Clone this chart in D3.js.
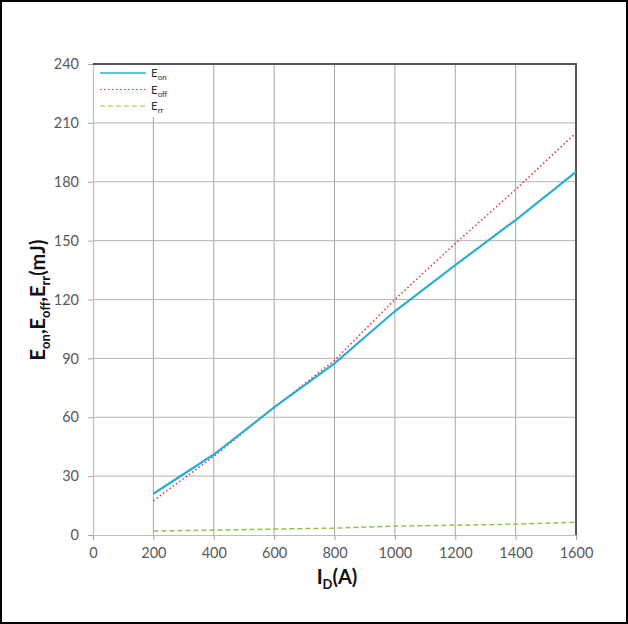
<!DOCTYPE html>
<html>
<head>
<meta charset="utf-8">
<script src="https://cdn.jsdelivr.net/npm/d3@7"></script>
<style>
  html, body { margin: 0; padding: 0; background: #fff; }
  svg { display: block; }
</style>
</head>
<body>
<svg id="chart" width="628" height="624"></svg>
<script>
// Switching energy vs drain current
const currents = [200, 400, 600, 800, 1000, 1200, 1400, 1600];
const eOn  = [21, 41, 65, 87.5, 114, 137.5, 160.5, 185];
const eOff = [17.5, 40, 65, 89, 120, 148.5, 176, 205];
const eRr  = [2, 2.5, 3, 3.5, 4.5, 5, 5.5, 6.5];
const xTicks = [0, 200, 400, 600, 800, 1000, 1200, 1400, 1600];
const yTicks = [0, 30, 60, 90, 120, 150, 180, 210, 240];

const series = [
  { name: "on",  values: eOn,  color: "#2aaed6", width: 2.2, dash: null },
  { name: "off", values: eOff, color: "#e5323a", width: 1.5, dash: "1.5,2.5" },
  { name: "rr",  values: eRr,  color: "#96c43c", width: 1.5, dash: "5,3" }
];

const svg = d3.select("#chart");
const W = 628, H = 624;
const plotL = 93, plotR = 576, plotT = 64, plotB = 535;
const font = "Lato, 'Open Sans', sans-serif";

// outer frame
svg.append("rect").attr("x", 1).attr("y", 1).attr("width", W - 2).attr("height", H - 2)
  .attr("fill", "#fff").attr("stroke", "#000").attr("stroke-width", 2);

const x = d3.scaleLinear().domain([0, 1600]).range([plotL, plotR]);
const y = d3.scaleLinear().domain([0, 240]).range([plotB, plotT]);

// grid
const grid = svg.append("g");
grid.selectAll("line.v").data(xTicks.slice(1, -1)).join("line")
  .attr("x1", d => x(d)).attr("x2", d => x(d)).attr("y1", plotT).attr("y2", plotB)
  .attr("stroke", "#a6a6a6").attr("stroke-width", 1);
grid.selectAll("line.h").data(yTicks.slice(1, -1)).join("line")
  .attr("x1", plotL).attr("x2", plotR).attr("y1", d => y(d)).attr("y2", d => y(d))
  .attr("stroke", "#b5b5b5").attr("stroke-width", 1);

// axes
const xAxis = svg.append("g").attr("transform", `translate(0,${plotB})`)
  .call(d3.axisBottom(x).tickValues(xTicks).tickSize(5).tickPadding(8).tickFormat(d3.format("d")));
const yAxis = svg.append("g").attr("transform", `translate(${plotL},0)`)
  .call(d3.axisLeft(y).tickValues(yTicks).tickSize(5).tickPadding(9).tickFormat(d3.format("d")));
[xAxis, yAxis].forEach(a => {
  a.select(".domain").attr("stroke", "#bdbdbd").attr("stroke-width", 1.2);
  a.selectAll(".tick line").attr("stroke", "#a6a6a6");
  a.selectAll(".tick text").attr("fill", "#595959").style("font-family", font).style("font-size", "14.5px");
});

// plot frame: top and right edges
svg.append("path")
  .attr("d", `M${plotL},${plotT}H${plotR}V${plotB}`)
  .attr("fill", "none").attr("stroke", "#555").attr("stroke-width", 2);

// curves
const line = d3.line().x((d, i) => x(currents[i])).y(d => y(d));
series.slice().reverse().forEach(s => {
  svg.append("path").datum(s.values)
    .attr("d", line)
    .attr("fill", "none")
    .attr("stroke", s.color)
    .attr("stroke-width", s.width)
    .attr("stroke-dasharray", s.dash);
});

// legend
const legend = svg.append("g");
legend.append("rect").attr("x", plotL + 1).attr("y", plotT + 1).attr("width", 82).attr("height", 52).attr("fill", "#fff");
series.forEach((s, i) => {
  const ly = 73 + i * 16.5;
  legend.append("line").attr("x1", 100).attr("x2", 146).attr("y1", ly).attr("y2", ly)
    .attr("stroke", s.color).attr("stroke-width", s.name === "on" ? 1.6 : 1.2)
    .attr("stroke-dasharray", s.dash);
  const t = legend.append("text").attr("x", 151).attr("y", ly + 4)
    .style("font-family", font).style("font-size", "11.5px").attr("fill", "#333");
  t.append("tspan").text("E");
  t.append("tspan").attr("dy", 3).style("font-size", "8px").text(s.name);
});

// axis titles
const xt = svg.append("text").attr("x", 337).attr("y", 584).attr("text-anchor", "middle")
  .style("font-family", font).style("font-size", "20px").style("font-weight", "bold").attr("fill", "#111");
xt.append("tspan").text("I");
xt.append("tspan").attr("dy", 5).style("font-size", "13px").text("D");
xt.append("tspan").attr("dy", -5).text("(A)");

const yt = svg.append("text").attr("transform", "translate(45,300) rotate(-90)").attr("text-anchor", "middle")
  .style("font-family", font).style("font-size", "20px").style("font-weight", "bold").attr("fill", "#111");
yt.append("tspan").text("E");
yt.append("tspan").attr("dy", 5).style("font-size", "13px").text("on");
yt.append("tspan").attr("dy", -5).text(",E");
yt.append("tspan").attr("dy", 5).style("font-size", "13px").text("off");
yt.append("tspan").attr("dy", -5).text(",E");
yt.append("tspan").attr("dy", 5).style("font-size", "13px").text("rr");
yt.append("tspan").attr("dy", -5).text("(mJ)");
</script>
</body>
</html>
